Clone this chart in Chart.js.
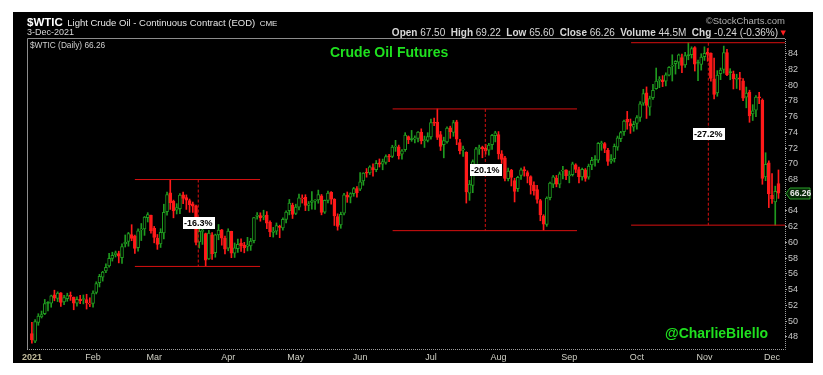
<!DOCTYPE html>
<html><head><meta charset="utf-8">
<script src="https://cdn.jsdelivr.net/npm/chart.js@4/dist/chart.umd.min.js"></script>
<style>
html,body{margin:0;padding:0;background:#fff;width:823px;height:375px;overflow:hidden;font-family:"Liberation Sans",Arial,sans-serif;}
#panel{position:absolute;left:13px;top:12px;width:800px;height:351px;background:#000;}
#c{position:absolute;left:0;top:0;}
.t{position:absolute;white-space:nowrap;line-height:1;}
</style></head><body>
<div id="panel">
<canvas id="c" width="800" height="351"></canvas>
<div class="t" style="left:14px;top:1px;color:#fff;"><b style="font-size:11.5px">$WTIC</b> <span style="font-size:9.5px;color:#e6e6e6">Light Crude Oil - Continuous Contract (EOD)</span> <span style="font-size:8px;color:#e6e6e6">CME</span></div>
<div class="t" style="left:14px;top:16px;font-size:9px;color:#d8d8d8;">3-Dec-2021</div>
<div class="t" style="right:28px;top:4px;font-size:9.5px;color:#b0b0b0;">&copy;StockCharts.com</div>
<div class="t" style="right:35px;top:15.5px;font-size:10px;color:#d8d8d8;"><b>Open</b> 67.50 &nbsp;<b>High</b> 69.22 &nbsp;<b>Low</b> 65.60 &nbsp;<b>Close</b> 66.26 &nbsp;<b>Volume</b> 44.5M &nbsp;<b>Chg</b> -0.24 (-0.36%)</div>
<div class="t" style="right:27px;top:18px;font-size:7px;color:#ff2020;font-family:'DejaVu Sans';">&#9660;</div>
<div class="t" id="sym" style="left:17px;top:29px;font-size:8.3px;color:#cfcfcf;">$WTIC (Daily) 66.26</div>
<div class="t" style="left:317px;top:33px;font-size:14px;font-weight:bold;color:#1fe01f;">Crude Oil Futures</div>
<div class="t" style="left:652px;top:314px;font-size:14px;font-weight:bold;color:#1fe01f;">@CharlieBilello</div>
</div>
<script>
const monthLabels = ['2021','Feb','Mar','Apr','May','Jun','Jul','Aug','Sep','Oct','Nov','Dec'];
const monthStart  = [0,19,38,61,82,102,124,145,167,188,209,230];
const yTicks = [48,50,52,54,56,58,60,62,64,66,68,70,72,74,76,78,80,82,84];

const opens = [
48.40,47.44,49.82,50.52,50.93,52.31,52.28,53.35,52.87,53.60,52.43,52.84,53.26,53.06,52.27,52.76,52.75,52.72,52.16,
52.25,53.64,54.87,55.60,56.38,57.02,57.96,58.40,58.59,58.08,59.80,60.14,61.01,60.80,59.34,61.59,61.73,63.14,63.45,
61.79,60.55,59.82,61.21,63.92,66.31,65.25,64.10,64.31,66.07,65.71,65.31,64.92,64.65,60.07,61.41,61.13,57.92,60.98,58.70,60.96,61.60,60.52,
59.27,61.41,58.63,59.22,59.92,59.65,59.49,59.55,60.24,63.32,63.43,63.22,63.48,62.55,61.29,61.45,61.94,61.84,62.94,64.04,64.75,
63.70,64.50,65.52,65.73,64.72,65.08,65.26,65.41,65.93,63.84,65.34,66.37,65.49,63.30,62.22,63.71,66.03,65.75,66.20,66.84,
66.78,67.82,68.86,68.85,69.51,69.24,70.14,69.94,70.18,71.00,70.94,72.13,72.15,71.23,71.79,73.46,73.18,73.12,73.24,74.02,72.95,72.99,
73.41,75.22,75.31,73.73,72.44,72.77,74.58,74.00,75.33,72.71,71.78,71.46,66.26,67.24,69.84,71.91,72.13,72.01,71.75,72.45,73.57,
73.72,71.26,70.76,68.11,69.21,67.87,66.83,68.54,69.28,68.89,68.39,67.31,66.73,65.32,63.40,62.28,65.70,67.42,68.18,67.41,69.05,69.24,
68.49,68.63,69.87,69.27,68.32,69.22,68.30,69.85,70.49,70.47,72.55,72.57,71.76,70.35,70.65,72.12,73.21,74.10,75.66,75.13,74.66,
75.14,75.90,77.71,79.04,77.19,78.41,79.55,80.62,80.68,80.51,81.27,82.42,82.73,82.93,83.51,82.59,83.81,83.87,84.77,82.87,82.63,
83.64,84.22,84.06,80.82,79.03,81.45,81.99,84.15,81.72,81.44,80.74,80.94,80.56,78.46,79.13,76.34,76.83,78.50,78.09,68.33,70.14,
66.00,65.17,67.50];
const highs = [
49.83,50.20,50.94,51.28,52.75,52.47,53.30,53.93,53.72,53.61,53.29,53.55,53.70,53.06,53.07,53.26,53.32,53.41,52.96,
53.84,55.00,55.95,56.33,57.29,58.62,58.76,58.91,58.89,59.82,60.95,61.28,62.26,60.94,61.73,62.41,63.30,63.79,63.49,
62.04,61.01,61.75,64.86,66.40,68.00,65.39,64.93,66.22,66.40,66.05,65.52,65.14,64.75,61.71,61.89,61.19,61.53,61.26,61.06,62.28,61.66,60.80,
61.74,61.43,59.93,60.44,60.45,60.02,60.65,60.52,63.20,63.81,63.77,64.10,63.92,62.75,61.92,62.48,62.20,63.12,64.02,65.47,65.00,
64.87,66.14,66.05,66.07,65.21,66.48,65.45,66.66,66.10,65.40,66.54,66.48,65.57,63.64,63.85,66.26,66.42,66.32,67.00,67.11,
68.87,68.87,69.40,69.76,70.00,70.42,70.62,70.60,71.13,71.22,72.36,72.99,72.38,71.80,73.96,73.55,74.25,73.55,74.10,74.45,73.53,73.96,
75.70,75.82,76.98,74.12,73.39,74.69,74.79,75.52,75.54,73.11,72.27,71.53,67.89,70.50,72.09,72.38,72.25,72.49,72.59,73.76,74.14,
74.10,71.68,70.95,69.45,69.30,68.16,68.42,69.45,69.62,69.11,68.48,67.72,67.25,65.48,63.53,65.80,67.68,68.52,68.52,68.96,69.68,69.25,
69.08,70.21,70.00,69.58,69.45,69.40,69.96,70.83,71.04,72.71,72.88,72.71,71.97,71.19,72.52,73.53,74.13,75.57,76.67,75.70,75.40,
76.15,77.90,79.48,79.78,78.60,80.11,82.18,81.09,81.21,81.58,82.38,83.87,83.13,83.96,83.95,84.17,85.41,84.88,84.90,83.20,84.00,
84.88,84.66,84.11,83.45,81.85,82.18,84.97,84.57,82.10,81.80,81.39,81.63,80.85,79.76,79.36,77.52,78.69,79.10,78.26,71.41,70.38,
68.76,67.16,69.22];
const lows = [
47.18,47.26,49.47,50.39,50.82,51.28,51.76,52.58,52.48,51.85,52.10,52.52,52.63,51.44,51.91,52.22,52.19,51.53,51.84,
51.76,53.45,54.34,55.08,56.16,56.86,57.63,58.15,57.40,57.33,59.42,59.52,60.22,58.59,58.90,60.24,60.90,62.60,61.17,
59.95,59.12,59.36,60.45,63.47,64.20,63.13,63.62,63.67,64.94,64.20,63.84,63.82,59.70,59.29,59.75,57.00,57.85,57.84,58.12,60.34,59.65,58.55,
58.94,58.06,58.09,58.74,58.87,58.68,58.92,58.99,59.94,62.97,62.70,62.88,61.75,60.73,60.68,61.01,60.60,61.56,62.49,63.51,63.05,
63.54,64.15,65.01,64.05,64.03,64.22,64.21,64.99,63.51,63.69,65.02,64.86,62.16,61.56,61.80,63.51,65.10,65.03,65.87,65.75,
66.60,67.27,68.30,68.64,68.44,68.99,69.59,69.24,69.96,70.27,70.79,71.58,70.60,70.58,71.58,72.56,72.86,72.66,72.78,72.53,72.08,72.78,
73.14,74.84,73.09,71.70,70.76,72.62,73.24,73.50,72.43,71.27,70.93,65.01,65.35,66.33,69.54,71.20,70.77,71.22,71.11,71.84,72.79,
70.60,70.04,67.84,67.82,67.18,65.15,66.48,68.01,68.43,67.57,66.15,66.02,65.01,62.76,61.55,62.05,65.42,66.96,67.07,66.95,68.07,67.98,
67.58,68.44,68.88,67.58,67.91,67.78,68.04,69.25,69.71,70.16,71.72,71.42,69.80,70.06,70.22,71.72,72.82,73.62,74.40,73.87,74.14,
74.40,75.39,77.43,75.77,76.16,78.18,79.48,79.68,79.82,79.92,81.19,80.53,81.41,82.09,81.58,82.25,83.23,83.45,81.80,80.58,81.91,
83.15,83.04,80.51,78.25,78.59,80.70,81.54,81.21,80.69,79.52,79.58,79.40,78.02,77.12,75.28,75.51,75.99,77.66,67.40,67.86,64.43,
64.95,62.20,65.60];
const closes = [
47.62,49.93,50.63,50.83,52.24,52.25,53.21,52.91,53.57,52.36,52.98,53.24,53.13,52.27,52.77,52.61,52.85,52.34,52.20,
53.55,54.76,55.69,56.23,56.85,57.97,58.36,58.68,58.24,59.47,60.05,61.14,60.52,59.24,61.49,61.67,63.22,63.53,61.50,
60.64,59.75,61.28,63.83,66.09,65.05,64.01,64.44,66.02,65.61,65.39,64.80,64.60,60.00,61.42,61.55,57.76,61.18,58.56,60.97,61.56,60.55,59.16,
61.45,58.65,59.33,59.77,59.60,59.32,59.70,60.18,63.15,63.46,63.13,63.38,62.44,61.35,61.43,62.14,61.91,62.94,63.86,65.01,63.58,
64.49,65.69,65.63,64.71,64.90,65.28,65.28,66.08,63.82,65.37,66.27,65.49,63.36,62.05,63.58,66.05,65.76,66.21,66.85,66.32,
67.72,68.83,68.81,69.62,69.23,70.05,69.96,70.29,70.91,70.88,72.12,72.15,71.04,71.64,73.66,73.06,73.08,73.30,74.05,72.91,72.98,73.47,
75.23,75.16,73.37,72.20,72.94,74.56,74.10,75.25,73.13,71.65,71.81,66.42,67.42,70.30,71.91,72.07,71.91,71.65,72.39,73.62,73.95,
71.26,70.56,68.15,69.09,68.28,66.48,68.29,69.25,69.09,68.44,67.29,66.59,65.46,63.50,62.32,65.64,67.54,68.36,67.42,68.74,69.21,68.50,
68.59,69.99,69.29,68.35,69.30,68.14,69.72,70.45,70.46,72.61,72.61,71.97,70.29,70.56,72.23,73.30,73.98,75.45,75.29,74.83,75.03,
75.88,77.62,78.93,77.43,78.30,79.35,80.52,80.64,80.44,81.31,82.28,82.44,83.04,83.87,82.50,83.76,83.76,84.65,82.66,82.81,83.57,
84.05,83.91,80.86,78.81,81.27,81.93,84.15,81.34,81.59,80.79,80.88,80.76,78.36,79.01,76.10,76.75,78.50,78.39,68.15,69.95,66.18,
65.57,66.50,66.26];

// drawdown annotations (index positions on the trading-day axis, prices)
const rangeStart  = [32.0, 112.1, 186.2];
const rangeEnd    = [70.9, 169.4, 236.0];
const rangeMark   = [51.7, 140.9, 210.2];
const rangeHigh   = [68.00, 76.98, 85.40];
const rangeLow    = [56.95, 61.50, 62.20];
const rangeLabels = ['-16.3%', '-20.1%', '-27.2%'];

const GREEN = '#1f9a1f', RED = '#ff1a1a', LINE_RED = '#d81010';
const n = closes.length;
const lastClose = closes[n - 1];
document.getElementById('sym').textContent = '$WTIC (Daily) ' + lastClose.toFixed(2);

const candleColor = closes.map((c, i) => (c >= (i ? closes[i - 1] : opens[i])) ? GREEN : RED);
const bodyFill = closes.map((c, i) => c >= opens[i] ? '#000' : candleColor[i]);

const datasets = [
  { type: 'bar', order: 3, data: closes.map((c, i) => ({ x: i, y: [lows[i], highs[i]] })),
    backgroundColor: candleColor, borderWidth: 0, barThickness: 1, grouped: false },
  { type: 'bar', order: 2, data: closes.map((c, i) => ({ x: i, y: [opens[i], c] })),
    backgroundColor: bodyFill, borderColor: candleColor, borderWidth: 1, borderSkipped: false,
    barThickness: 3, minBarLength: 1, grouped: false }
];
rangeLabels.forEach((t, k) => {
  const base = { type: 'line', order: 1, borderColor: LINE_RED, borderWidth: 1, pointRadius: 0, fill: false };
  datasets.push(Object.assign({}, base, { data: [{ x: rangeStart[k], y: rangeHigh[k] }, { x: rangeEnd[k], y: rangeHigh[k] }] }));
  datasets.push(Object.assign({}, base, { data: [{ x: rangeStart[k], y: rangeLow[k] }, { x: rangeEnd[k], y: rangeLow[k] }] }));
  datasets.push(Object.assign({}, base, { borderDash: [3, 2], data: [{ x: rangeMark[k], y: rangeHigh[k] }, { x: rangeMark[k], y: rangeLow[k] }] }));
});

const overlay = {
  id: 'overlay',
  afterDraw(chart) {
    const { ctx, chartArea: a, scales: { x, y } } = chart;
    ctx.save();
    ctx.lineWidth = 1;
    ctx.strokeStyle = '#8c8c8c';
    ctx.beginPath();
    ctx.moveTo(a.left + 0.5, a.bottom); ctx.lineTo(a.left + 0.5, a.top + 0.5); ctx.lineTo(a.right, a.top + 0.5);
    ctx.stroke();
    ctx.strokeStyle = '#a0a0a0';
    ctx.setLineDash([1, 1]);
    ctx.beginPath();
    ctx.moveTo(a.left, a.bottom + 0.5); ctx.lineTo(a.right + 0.5, a.bottom + 0.5); ctx.lineTo(a.right + 0.5, a.top);
    ctx.stroke();
    ctx.setLineDash([]);
    // percentage labels
    ctx.font = 'bold 9px "Liberation Sans"';
    ctx.textAlign = 'center'; ctx.textBaseline = 'middle';
    rangeLabels.forEach((t, k) => {
      const cx = x.getPixelForValue(rangeMark[k]);
      const cy = y.getPixelForValue((rangeHigh[k] + rangeLow[k]) / 2);
      const w = ctx.measureText(t).width + 3, h = 12;
      ctx.fillStyle = '#fff';
      ctx.fillRect(Math.round(cx - w / 2), Math.round(cy - h / 2), Math.round(w), h);
      ctx.fillStyle = '#000';
      ctx.fillText(t, cx, cy + 0.5);
    });
    // last price tag
    const py = Math.round(y.getPixelForValue(lastClose)) + 0.5;
    const x0 = a.right + 1;
    ctx.beginPath();
    ctx.moveTo(x0, py); ctx.lineTo(x0 + 4, py - 5.5); ctx.lineTo(x0 + 24, py - 5.5);
    ctx.lineTo(x0 + 24, py + 5.5); ctx.lineTo(x0 + 4, py + 5.5); ctx.closePath();
    ctx.fillStyle = '#062806'; ctx.fill();
    ctx.strokeStyle = '#2aa02a'; ctx.stroke();
    ctx.fillStyle = '#e8e8e8';
    ctx.font = 'bold 8.5px "Liberation Sans"';
    ctx.textAlign = 'left';
    ctx.fillText(lastClose.toFixed(2), x0 + 4, py + 0.5);
    ctx.restore();
  }
};

new Chart(document.getElementById('c'), {
  type: 'bar',
  data: { datasets },
  options: {
    responsive: false, animation: false, events: [],
    layout: { padding: { left: 14, top: 26, right: 0, bottom: 0 } },
    plugins: { legend: { display: false }, tooltip: { enabled: false } },
    scales: {
      x: {
        type: 'linear', min: -1.52, max: 234.03, offset: false,
        afterFit: s => { s.height = 14; },
        afterBuildTicks: s => { s.ticks = monthStart.map(v => ({ value: v })); },
        grid: { display: false, drawTicks: false }, border: { display: false },
        ticks: {
          autoSkip: false, maxRotation: 0, padding: 3,
          color: ctx => ctx.index === 0 ? '#c2bc9c' : '#cfcfc4',
          font: ctx => ({ family: 'Liberation Sans', size: 9, weight: ctx.index === 0 ? 'bold' : 'normal' }),
          callback: (v, i) => monthLabels[i]
        }
      },
      y: {
        position: 'right', min: 46.45, max: 86.0,
        afterFit: s => { s.width = 28; },
        afterBuildTicks: s => { s.ticks = yTicks.filter(v => Math.abs(v - lastClose) > 1).map(v => ({ value: v })); },
        grid: { display: true, drawOnChartArea: false, drawTicks: true, tickLength: 2, color: '#a0a0a0' },
        border: { display: false },
        ticks: { color: '#c8c8c8', padding: 1, font: { family: 'Liberation Sans', size: 9 }, callback: v => String(v) }
      }
    }
  },
  plugins: [overlay]
});
</script>
</body></html>
